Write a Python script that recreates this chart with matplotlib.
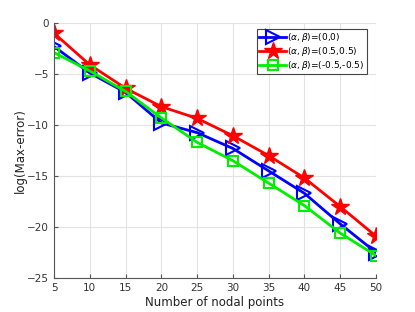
import numpy as np
import matplotlib.pyplot as plt

# nodal points and log(max-error) for each (alpha, beta) pair
n_nodes = [5, 10, 15, 20, 25, 30, 35, 40, 45, 50]
err_00 = [-2.3, -4.9, -6.8, -9.8, -10.75, -12.3, -14.5, -16.7, -19.7, -22.5]
err_05 = [-1.0, -4.1, -6.4, -8.2, -9.35, -11.05, -13.0, -15.2, -18.0, -20.9]
err_m05 = [-2.9, -4.7, -6.7, -9.3, -11.7, -13.5, -15.7, -17.9, -20.6, -22.8]

fig = plt.figure(figsize=(4.15, 3.12), dpi=100)
ax = fig.add_axes([54/415, 1 - 278/312, (376-54)/415, (278-23)/312])

ax.plot(n_nodes, err_00, color='#0000ff', lw=2, marker='>', ms=10,
        mfc='none', mew=1.5, label=r'$(\alpha,\beta)$=(0,0)')
ax.plot(n_nodes, err_05, color='#ff0000', lw=2, marker='*', ms=13,
        mew=1, label=r'$(\alpha,\beta)$=(0.5,0.5)')
ax.plot(n_nodes, err_m05, color='#00ee00', lw=2, marker='s', ms=7,
        mfc='none', mew=1.5, label=r'$(\alpha,\beta)$=(-0.5,-0.5)')

ax.set_xlim(5, 50)
ax.set_ylim(-25, 0)
ax.set_xticks(np.arange(5, 51, 5))
ax.set_yticks(np.arange(-25, 1, 5))
ax.grid(True, color='#e3e3e3', lw=0.8)
ax.set_axisbelow(True)
for s in ['top', 'right']:
    ax.spines[s].set_visible(False)
for s in ['left', 'bottom']:
    ax.spines[s].set_color('#555555')
ax.tick_params(direction='in', length=3, labelsize=7.5, colors='#333333',
               color='#555555')
ax.set_xlabel('Number of nodal points', fontsize=8.5, color='#222222', labelpad=2)
ax.set_ylabel('log(Max-error)', fontsize=8.5, color='#222222', labelpad=0)

leg = ax.legend(loc='upper right', bbox_to_anchor=(366.7/415, 1 - 29/312),
                bbox_transform=fig.transFigure, fontsize=6.5, fancybox=False,
                framealpha=1, edgecolor='#444444', handlelength=3.0,
                handletextpad=0.1, borderpad=0.25, labelspacing=0.1,
                borderaxespad=0)
leg.get_frame().set_linewidth(0.8)

fig.savefig('out.png', dpi=100)
